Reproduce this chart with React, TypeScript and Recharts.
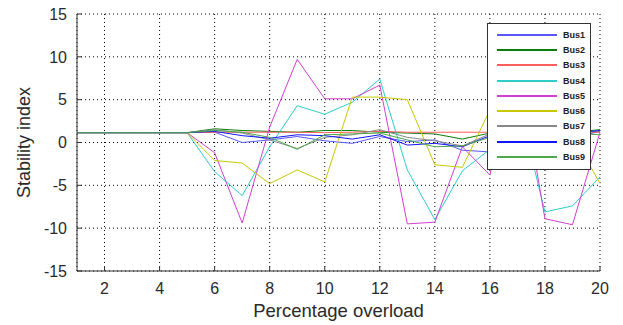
import React from "react"
import { LineChart, Line, XAxis, YAxis, CartesianGrid, Legend } from "recharts"

const xs = [1, 2, 3, 4, 5, 6, 7, 8, 9, 10, 11, 12, 13, 14, 15, 16, 17, 18, 19, 20]
const xTicks = [2, 4, 6, 8, 10, 12, 14, 16, 18, 20]
const yTicks = [-15, -10, -5, 0, 5, 10, 15]

const bus1 = [1.15, 1.15, 1.15, 1.15, 1.15, 1.2, 0, 0.3, 0.7, 0.2, -0.1, 0.7, 0.1, 0.3, -0.9, -1.1, -0.5, 0, 0.5, 1.3]
const bus2 = [1.15, 1.15, 1.15, 1.15, 1.15, 1.6, 1.4, 1.3, 1.2, 1.4, 1.4, 1.2, 1.1, 1.0, 0.4, 1.1, 1.2, 1.2, 1.2, 1.5]
const bus3 = [1.15, 1.15, 1.15, 1.15, 1.15, 1.2, 1.2, 1.2, 1.2, 1.15, 1.2, 1.3, 1.2, 1.2, 1.2, 1.2, 1.2, 1.2, 1.2, 1.2]
const bus4 = [1.15, 1.15, 1.15, 1.15, 1.15, -3.4, -6.2, -0.5, 4.3, 3.3, 4.7, 7.4, -3.2, -9.0, -3.3, -0.8, 5, -8.1, -7.4, -4.0]
const bus5 = [1.15, 1.15, 1.15, 1.15, 1.15, -1.2, -9.4, 1.8, 9.7, 5.1, 5.1, 6.7, -9.5, -9.3, -0.5, -3.8, 10, -8.9, -9.6, 1.2]
const bus6 = [1.15, 1.15, 1.15, 1.15, 1.15, -2.1, -2.4, -4.8, -3.2, -4.6, 5.3, 5.3, 5.0, -2.6, -2.9, 3.8, 6, -2.9, 1, -4.8]
const bus7 = [1.15, 1.15, 1.15, 1.15, 1.15, 1.5, 1.1, 0.3, -0.7, 0.6, 0.9, 1.5, 0.6, 0.2, -0.4, 1.0, 1.1, 1.1, 1.2, 1.3]
const bus8 = [1.15, 1.15, 1.15, 1.15, 1.15, 1.3, 0.8, 0.5, 0.9, 0.8, 0.4, 0.9, -0.3, -0.1, -0.5, 0.8, 0.9, 1.0, 1.1, 1.4]
const bus9 = [1.15, 1.15, 1.15, 1.15, 1.15, 1.4, 1.2, 0.6, -0.8, 0.9, 1.0, 1.1, 0.3, -0.5, -0.4, 0.6, 1.0, 1.0, 1.1, 0.9]

const series = [
  { key: "Bus1", values: bus1, color: "#5858f8" },
  { key: "Bus2", values: bus2, color: "#0a7d0a" },
  { key: "Bus3", values: bus3, color: "#ff5c5c" },
  { key: "Bus4", values: bus4, color: "#30cccc" },
  { key: "Bus5", values: bus5, color: "#d040d0" },
  { key: "Bus6", values: bus6, color: "#c8c800" },
  { key: "Bus7", values: bus7, color: "#888888" },
  { key: "Bus8", values: bus8, color: "#1414ff" },
  { key: "Bus9", values: bus9, color: "#4ea84e" },
]

const data = xs.map((x, i) => {
  const row: Record<string, number> = { x }
  series.forEach((s) => (row[s.key] = s.values[i]))
  return row
})

const font = "'Liberation Sans', Arial, sans-serif"
const axisColor = "#333"
const textColor = "#2a2a2a"

// top / right box axes only show their inward tick marks
const NoLabel = () => <g />

function LegendBox({ payload }: any) {
  return (
    <div
      style={{
        background: "#fff",
        border: "1px solid #333",
        width: 102,
        height: 142,
        boxSizing: "content-box",
        paddingTop: 3,
      }}
    >
      {(payload || []).map((p: any) => (
        <div key={p.value} style={{ display: "flex", alignItems: "center", height: 15.3 }}>
          <div style={{ marginLeft: 9, width: 60, height: 2, background: p.color }} />
          <span
            style={{
              marginLeft: 6,
              fontFamily: font,
              fontSize: 9,
              fontWeight: "bold",
              color: "#222",
              lineHeight: "10px",
            }}
          >
            {p.value}
          </span>
        </div>
      ))}
    </div>
  )
}

export default function App() {
  return (
    <div style={{ position: "absolute", left: 0, top: 0, background: "#fff" }}>
      <LineChart width={623} height={325} data={data} margin={{ top: 14, right: 23, bottom: 0, left: 0 }}>
        <CartesianGrid stroke="#000" strokeDasharray="1 3" horizontal vertical />
        <XAxis
          type="number"
          dataKey="x"
          domain={[1, 20]}
          ticks={xTicks}
          height={54}
          stroke={axisColor}
          tickSize={-5}
          tickMargin={17}
          tick={{ fill: textColor, fontSize: 16, fontFamily: font }}
          label={{ value: "Percentage overload", position: "insideBottom", offset: 8, fill: textColor, fontSize: 18.5, fontFamily: font }}
        />
        <XAxis
          xAxisId="top"
          orientation="top"
          type="number"
          dataKey="x"
          domain={[1, 20]}
          ticks={xTicks}
          height={0}
          stroke={axisColor}
          tickSize={-5}
          tick={NoLabel}
        />
        <YAxis
          type="number"
          domain={[-15, 15]}
          ticks={yTicks}
          width={77}
          stroke={axisColor}
          tickSize={-5}
          tickMargin={15}
          tick={{ fill: textColor, fontSize: 16, fontFamily: font }}
          label={{ value: "Stability index", angle: -90, position: "insideLeft", offset: 24, fill: textColor, fontSize: 18, fontFamily: font, style: { textAnchor: "middle" } }}
        />
        <YAxis
          yAxisId="right"
          orientation="right"
          type="number"
          domain={[-15, 15]}
          ticks={yTicks}
          width={0}
          stroke={axisColor}
          tickSize={-5}
          tick={NoLabel}
        />
        <Legend
          layout="horizontal"
          verticalAlign="middle"
          align="center"
          wrapperStyle={{ top: 23, left: 487, width: 104 }}
          content={<LegendBox />}
        />
        {series.map((s) => (
          <Line
            key={s.key}
            type="linear"
            dataKey={s.key}
            name={s.key}
            stroke={s.color}
            strokeWidth={1}
            dot={false}
            isAnimationActive={false}
          />
        ))}
      </LineChart>
    </div>
  )
}
